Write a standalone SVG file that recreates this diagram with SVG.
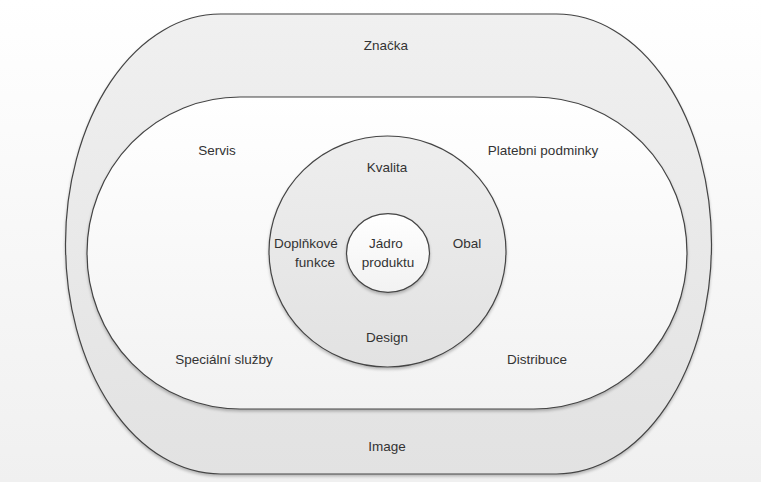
<svg xmlns="http://www.w3.org/2000/svg" width="761" height="482" viewBox="0 0 761 482">
<defs>
  <linearGradient id="bg" x1="0" y1="0" x2="0" y2="1">
    <stop offset="0" stop-color="#ffffff"/>
    <stop offset="1" stop-color="#f0f0f0"/>
  </linearGradient>
  <linearGradient id="band" x1="0" y1="0" x2="0" y2="1">
    <stop offset="0" stop-color="#f0f0f0"/>
    <stop offset="1" stop-color="#e2e2e2"/>
  </linearGradient>
  <linearGradient id="light" x1="0" y1="0" x2="0" y2="1">
    <stop offset="0" stop-color="#ffffff"/>
    <stop offset="1" stop-color="#f2f2f2"/>
  </linearGradient>
  <linearGradient id="ring" x1="0" y1="0" x2="0" y2="1">
    <stop offset="0" stop-color="#eeeeee"/>
    <stop offset="1" stop-color="#e2e2e2"/>
  </linearGradient>
  <filter id="sh" x="-5%" y="-5%" width="110%" height="112%">
    <feGaussianBlur in="SourceAlpha" stdDeviation="1.5"/>
    <feOffset dx="0" dy="2" result="b"/>
    <feComponentTransfer><feFuncA type="linear" slope="0.25"/></feComponentTransfer>
    <feMerge><feMergeNode/><feMergeNode in="SourceGraphic"/></feMerge>
  </filter>
</defs>
<style>
  .shape { stroke: #444444; stroke-width: 1.2; filter: url(#sh); }
  .lbl { font-family: "Liberation Sans", Arial, sans-serif; font-size: 13.5px; fill: #333333; text-anchor: middle; }
</style>
<rect x="0" y="0" width="761" height="482" fill="url(#bg)"/>
<g id="znacka-image">
  <rect class="shape" x="65.5" y="14" width="646" height="460" rx="155" ry="230" fill="url(#band)"/>
  <text class="lbl" x="386" y="50">Značka</text>
  <text class="lbl" x="387" y="451">Image</text>
</g>
<g id="sluzby">
  <rect class="shape" x="87" y="97" width="600" height="312" rx="153" ry="156" fill="url(#light)"/>
  <text class="lbl" x="217" y="155">Servis</text>
  <text class="lbl" x="543" y="155">Platebni podminky</text>
  <text class="lbl" x="224" y="364">Speciální služby</text>
  <text class="lbl" x="537" y="364">Distribuce</text>
</g>
<g id="vlastnosti">
  <ellipse class="shape" cx="387.5" cy="251.5" rx="118.5" ry="115.5" fill="url(#ring)"/>
  <text class="lbl" x="387" y="172">Kvalita</text>
  <text class="lbl" x="306" y="248">Doplňkové</text>
  <text class="lbl" x="315" y="267">funkce</text>
  <text class="lbl" x="467" y="248">Obal</text>
  <text class="lbl" x="387" y="342">Design</text>
</g>
<g id="jadro">
  <ellipse class="shape" cx="388" cy="253" rx="41.5" ry="39.3" fill="url(#light)"/>
  <text class="lbl" x="386" y="248">Jádro</text>
  <text class="lbl" x="388" y="267">produktu</text>
</g>
</svg>
